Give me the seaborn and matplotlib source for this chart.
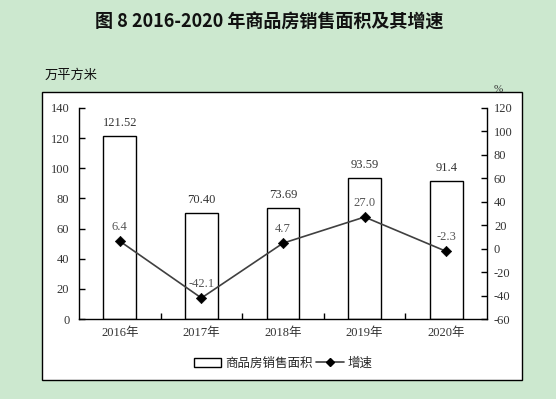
import matplotlib
matplotlib.use("Agg")
import matplotlib.pyplot as plt
import matplotlib.patches as mpatches
from matplotlib.lines import Line2D
import seaborn as sns
import numpy as np
import pandas as pd

years = ["2016年", "2017年", "2018年", "2019年", "2020年"]
area = [121.52, 70.40, 73.69, 93.59, 91.4]
area_labels = ["121.52", "70.40", "73.69", "93.59", "91.4"]
growth = [6.4, -42.1, 4.7, 27.0, -2.3]
growth_labels = ["6.4", "-42.1", "4.7", "27.0", "-2.3"]
left_ticks = [0, 20, 40, 60, 80, 100, 120, 140]
right_ticks = [-60, -40, -20, 0, 20, 40, 60, 80, 100, 120]

sns.set_theme(style="white")
plt.rcParams['font.family'] = ['Liberation Serif', 'Noto Sans CJK SC']
plt.rcParams['axes.unicode_minus'] = False

BG = "#cce8cf"
fig = plt.figure(figsize=(5.56, 3.99), dpi=100, facecolor=BG)
W, H = 556, 399

# white panel
fig.patches.append(mpatches.Rectangle((42 / W, (H - 380) / H), (522 - 42) / W, (380 - 92) / H,
                                      transform=fig.transFigure, facecolor="white",
                                      edgecolor="black", linewidth=1.0, zorder=-5))

ax = fig.add_axes([79 / W, (H - 319) / H, (487 - 79) / W, (319 - 108) / H])
ax.set_facecolor("none")

df = pd.DataFrame({"year": years, "area": area, "growth": growth})
sns.barplot(data=df, x="year", y="area", ax=ax, color="white", edgecolor="black",
            linewidth=1.0, width=0.4, saturation=1)
ax.set_ylim(0, 140)
ax.set_xlim(-0.5, 4.5)
ax.set_yticks(left_ticks)
ax.set_xlabel("")
ax.set_ylabel("")
for i, (v, s) in enumerate(zip(area, area_labels)):
    ax.annotate(s, (i, v), xytext=(0, 5), textcoords="offset points", ha="center",
                va="bottom", fontsize=9, color="#333333")

ax2 = ax.twinx()
ax2.set_facecolor("none")
pos = np.arange(len(years))
sns.lineplot(x=pos, y=growth, ax=ax2, color="#404040", linewidth=1.2)
sns.scatterplot(x=pos, y=growth, ax=ax2, color="black", marker="D", s=28, zorder=5,
                edgecolor="black")
ax2.set_ylim(-60, 120)
ax2.set_yticks(right_ticks)
ax2.set_xlim(-0.5, 4.5)
for i, (v, s) in enumerate(zip(growth, growth_labels)):
    ax2.annotate(s, (i, v), xytext=(0, 6), textcoords="offset points", ha="center",
                 va="bottom", fontsize=9, color="#555555")

for a in (ax, ax2):
    a.spines['top'].set_visible(False)
    for sp in ('left', 'right', 'bottom'):
        a.spines[sp].set_color("black")
        a.spines[sp].set_linewidth(1.0)
ax.spines['right'].set_visible(False)
ax2.spines['left'].set_visible(False)
ax2.spines['bottom'].set_visible(False)

ax.tick_params(axis='y', direction='in', length=4, width=1, color='black',
               labelsize=9, labelcolor="#333333", pad=7, left=True)
ax2.tick_params(axis='y', direction='in', length=4, width=1, color='black',
                labelsize=9, labelcolor="#333333", pad=5, right=True)
ax.set_xticks(pos)
ax.set_xticklabels(years)
ax.tick_params(axis='x', length=0, labelsize=9, labelcolor="#333333", pad=6)
ax.set_xticks([0.5, 1.5, 2.5, 3.5], minor=True)
ax.tick_params(axis='x', which='minor', direction='in', length=4, width=1, color='black',
               bottom=True)

fig.text(0.485, (H - 22) / H, "图 8 2016-2020 年商品房销售面积及其增速", ha="center", va="center",
         fontsize=13, fontweight="bold", family=["Noto Sans CJK SC"], color="#111111")
fig.text(45 / W, (H - 75) / H, "万平方米", ha="left", va="center", fontsize=9.5,
         family=["Noto Sans CJK SC"], color="#111111")
fig.text(498 / W, (H - 89) / H, "%", ha="center", va="center", fontsize=8, color="#333333")

handles = [mpatches.Patch(facecolor="white", edgecolor="black", linewidth=1.0),
           Line2D([0], [0], color="#404040", linewidth=1.2, marker="D", markersize=4,
                  markerfacecolor="black", markeredgecolor="black")]
fig.legend(handles, ["商品房销售面积", "增速"], loc="center", bbox_to_anchor=(283 / W, (H - 363) / H),
           ncol=2, frameon=False, handlelength=2.2, handleheight=0.7,
           columnspacing=0.3, handletextpad=0.3, prop={"family": ["Noto Sans CJK SC"], "size": 9})

fig.savefig("out.png", dpi=100, facecolor=BG)
